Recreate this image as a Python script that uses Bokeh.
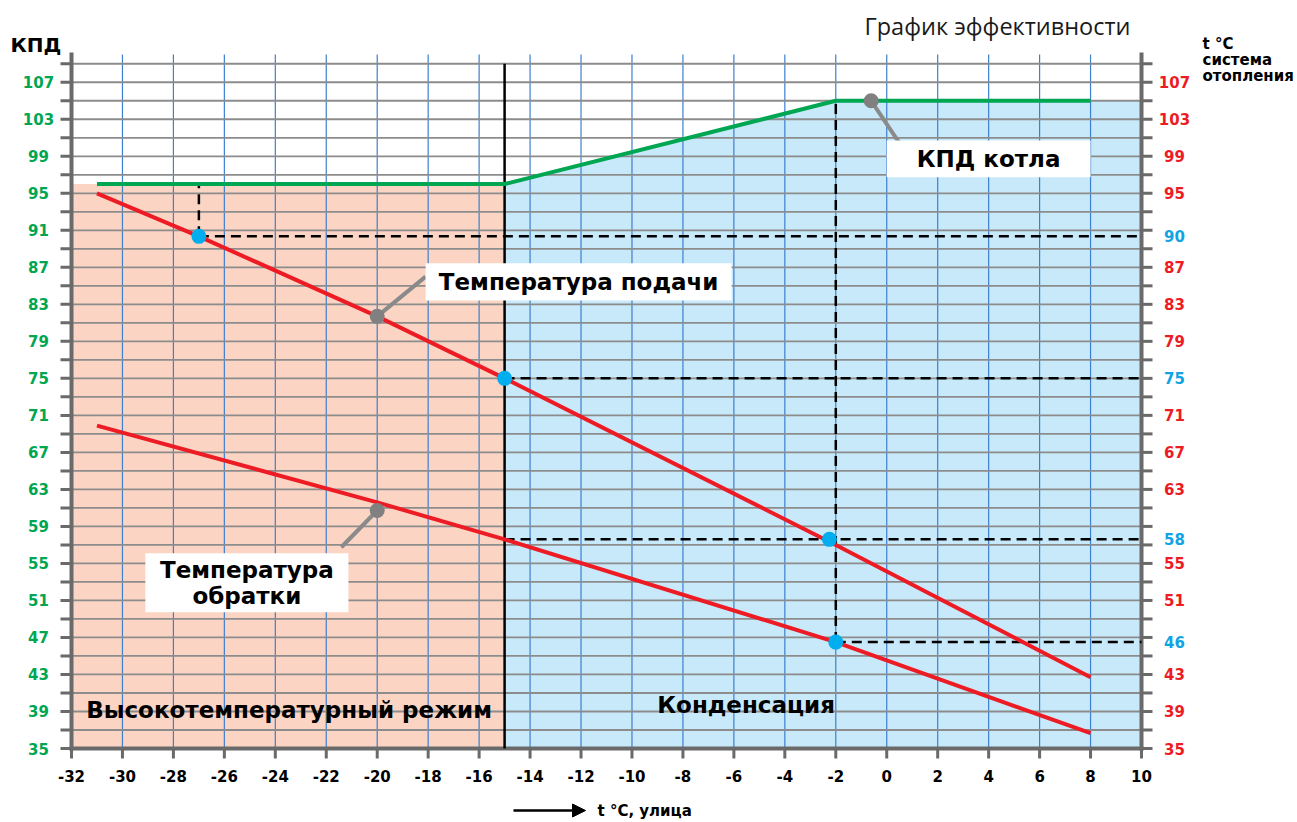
from bokeh.plotting import figure
from bokeh.models import Range1d, Arrow, NormalHead
from bokeh.core.properties import value
from bokeh.embed import file_html
from bokeh.resources import INLINE

# ---------------- data ----------------
x_ticks = list(range(-32, 11, 2))
x_tick_labels = [str(v) for v in x_ticks]
y_grid = list(range(35, 110, 2))
left_label_vals = list(range(35, 108, 4))
left_label_text = [str(v) for v in left_label_vals]
right_red_vals = [107, 103, 99, 95, 87, 83, 79, 71, 67, 63, 55, 51, 43, 39, 35]
right_blue_vals = [90.35, 75.0, 57.6, 46.5]
right_blue_text = ["90", "75", "58", "46"]

kpd_x = [-31, -15, -2, 8]
kpd_y = [96, 96, 105, 105]
supply_x = [-31, -27, -20, -15, -2, 8]
supply_y = [95.0, 90.35, 81.7, 75.0, 57.0, 42.7]
return_x = [-31, -20, -15, -2, 8]
return_y = [69.9, 61.6, 57.6, 46.5, 36.65]
points_x = [-27, -15, -2.25, -2]
points_y = [90.35, 75.0, 57.6, 46.5]

high_zone_x = [-32, -15]
high_zone_top = 96
cond_zone_x = [-15, -15, -2, 10, 10]
cond_zone_y = [35, 96, 105, 105, 35]
divider_x = [-15, -15]
divider_y = [35, 109]

dash_h_y = [90.35, 75.0, 57.6, 46.5]
dash_h_x0 = [-27, -15, -15, -2]
dash_h_x1 = [10, 10, 10, 10]
dash_v_x = [-27, -2]
dash_v_y0 = [90.35, 46.5]
dash_v_y1 = [96, 105]

call_text = ["Температура подачи", "Температура\nобратки", "КПД котла"]
call_dot_x = [-20, -20, -0.61]
call_dot_y = [81.7, 60.72, 105]
call_end_x = [-18.1, -21.41, 0.54]
call_end_y = [86.0, 56.75, 100.27]
box_x0 = [-18.1, -29.1, 0.0]
box_x1 = [-6.09, -21.13, 8.0]
box_y0 = [83.41, 49.73, 96.74]
box_y1 = [87.45, 56.1, 100.7]

zone_text = ["Высокотемпературный режим", "Конденсация"]
zone_x = [-23.46, -5.52]
zone_y = [39.2, 39.75]

X_MIN, X_MAX = -32, 10
Y_MIN, Y_MAX = 35, 110

# ---------------- layout (pixel <-> data) ----------------
W, H = 1297, 822
X_PER_PX = (X_MAX - X_MIN) / 1070.0
Y_PER_PX = (Y_MAX - Y_MIN) / 694.0
x_start = X_MIN - 71 * X_PER_PX
y_end = Y_MIN + 748 * Y_PER_PX

def dx(px):
    return x_start + px * X_PER_PX

def dy(py):
    return y_end - py * Y_PER_PX

TICK_X = 11 * X_PER_PX
TICK_Y = 10 * Y_PER_PX

GREEN = "#00a651"
RED = "#ed1c24"
BLUE = "#11a3e3"
AXIS = "#6a6a6a"
FONT = "DejaVu Sans"

p = figure(width=W, height=H, x_range=Range1d(x_start, x_start + W * X_PER_PX),
           y_range=Range1d(y_end - H * Y_PER_PX, y_end),
           x_axis_type=None, y_axis_type=None,
           output_backend="svg", toolbar_location=None, title=None, min_border=0)
p.outline_line_color = None
p.background_fill_color = "white"
p.border_fill_color = "white"

# zones
p.quad(left=high_zone_x[0], right=high_zone_x[1], bottom=Y_MIN, top=high_zone_top,
       fill_color="#fbd4c3", line_color=None)
p.patch(cond_zone_x, cond_zone_y, fill_color="#c7e9f9", line_color=None)

# grid
p.segment(x0=x_ticks, y0=[Y_MIN] * len(x_ticks), x1=x_ticks, y1=[Y_MAX] * len(x_ticks),
          line_color="#3d7fd0", line_width=1.2)
p.segment(x0=[X_MIN] * len(y_grid), y0=y_grid, x1=[X_MAX] * len(y_grid), y1=y_grid,
          line_color="#8c8c8c", line_width=1.8)

# axes: lines, ticks, labels
p.segment(x0=[X_MIN, X_MAX, X_MIN], y0=[Y_MIN, Y_MIN, Y_MIN],
          x1=[X_MIN, X_MAX, X_MAX], y1=[Y_MAX, Y_MAX, Y_MIN],
          line_color=AXIS, line_width=4, line_cap="square")
p.segment(x0=[X_MIN] * len(y_grid), y0=y_grid, x1=[X_MIN - TICK_X] * len(y_grid), y1=y_grid,
          line_color=AXIS, line_width=3)
p.segment(x0=[X_MAX] * len(y_grid), y0=y_grid, x1=[X_MAX + TICK_X] * len(y_grid), y1=y_grid,
          line_color=AXIS, line_width=3)
p.segment(x0=x_ticks, y0=[Y_MIN] * len(x_ticks), x1=x_ticks, y1=[Y_MIN - TICK_Y] * len(x_ticks),
          line_color=AXIS, line_width=3)

p.text(x=[dx(38)] * len(left_label_vals), y=left_label_vals, text=left_label_text,
       text_align="center", text_baseline="middle", text_color=GREEN,
       text_font=value(FONT), text_font_style="bold", text_font_size="15px")
rv = right_red_vals + right_blue_vals
rt = [str(v) for v in right_red_vals] + right_blue_text
rc = [RED] * len(right_red_vals) + [BLUE] * len(right_blue_vals)
p.text(x=[dx(1174)] * len(rv), y=rv, text=rt, text_color=rc,
       text_align="center", text_baseline="middle",
       text_font=value(FONT), text_font_style="bold", text_font_size="15px")
p.text(x=x_ticks, y=[dy(775)] * len(x_ticks), text=x_tick_labels, text_color="black",
       text_align="center", text_baseline="middle",
       text_font=value(FONT), text_font_style="bold", text_font_size="15px")

# divider and dashed helpers
p.line(divider_x, divider_y, line_color="black", line_width=2.5)
p.segment(x0=dash_h_x0, y0=dash_h_y, x1=dash_h_x1, y1=dash_h_y, line_color="black",
          line_width=2.5, line_dash="10 6")
p.segment(x0=dash_v_x, y0=dash_v_y0, x1=dash_v_x, y1=dash_v_y1, line_color="black",
          line_width=2.5, line_dash="10 6")

# curves
p.line(kpd_x, kpd_y, line_color=GREEN, line_width=4)
p.line(supply_x, supply_y, line_color=RED, line_width=4)
p.line(return_x, return_y, line_color=RED, line_width=4)
p.scatter(points_x, points_y, size=15, fill_color="#00aeef", line_color=None)

# callouts
p.segment(x0=call_dot_x, y0=call_dot_y, x1=call_end_x, y1=call_end_y,
          line_color="#8a8a8a", line_width=4)
p.scatter(call_dot_x, call_dot_y, size=15, fill_color="#808080", line_color=None)
p.quad(left=box_x0, right=box_x1, bottom=box_y0, top=box_y1, fill_color="white", line_color=None)
cx = [(a + b) / 2 for a, b in zip(box_x0, box_x1)]
cy = [(a + b) / 2 for a, b in zip(box_y0, box_y1)]
p.text(x=cx, y=cy, text=call_text, text_align="center", text_baseline="middle",
       text_font=value(FONT), text_font_style="bold", text_font_size="23px",
       text_color="black", text_line_height=1.0)

# zone labels
p.text(x=zone_x, y=zone_y, text=zone_text, text_align="center", text_baseline="middle",
       text_font=value(FONT), text_font_style="bold", text_font_size="23px", text_color="black")

# outer texts
p.text(x=[dx(997)], y=[dy(25)], text=["График эффективности"], text_align="center",
       text_baseline="middle", text_font=value("Open Sans"), text_font_size="23.5px",
       text_color="#1a1a1a")
p.text(x=[dx(10)], y=[dy(44)], text=["КПД"], text_align="left", text_baseline="middle",
       text_font=value(FONT), text_font_style="bold", text_font_size="20px", text_color="black")
p.text(x=[dx(1202)] * 3, y=[dy(43), dy(59), dy(75)], text=["t °C", "система", "отопления"],
       text_align="left", text_baseline="middle", text_font=value(FONT),
       text_font_style="bold", text_font_size="15px", text_color="black")
p.add_layout(Arrow(end=NormalHead(size=13, fill_color="black", line_color="black"),
                   x_start=dx(513), y_start=dy(810), x_end=dx(585), y_end=dy(810),
                   line_width=2.5, line_color="black"))
p.text(x=[dx(597)], y=[dy(810)], text=["t °C, улица"], text_align="left",
       text_baseline="middle", text_font=value(FONT), text_font_style="bold",
       text_font_size="15px", text_color="black")

open("out.html", "w").write(file_html(p, INLINE))
